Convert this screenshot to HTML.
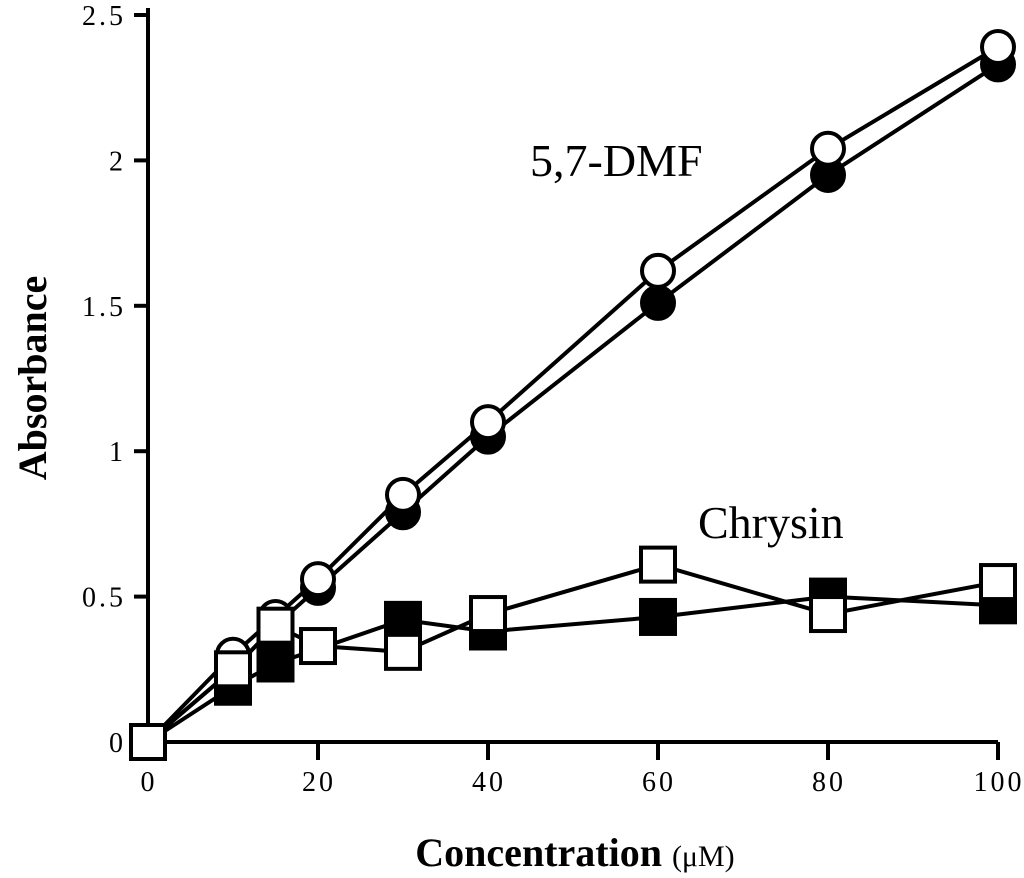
<!DOCTYPE html>
<html><head><meta charset="utf-8"><style>
html,body{margin:0;padding:0;background:#fff;}
svg{display:block;font-family:"Liberation Serif",serif;}
</style></head><body>
<svg id="c" width="1024" height="878"></svg>
<script>
const xTicks=[0,20,40,60,80,100];
const yTicks=[0,0.5,1,1.5,2,2.5];
const yTickLabels=["0","0.5","1","1.5","2","2.5"];
const dmfOpenX=[0,10,15,20,30,40,60,80,100];
const dmfOpenY=[0,0.30,0.43,0.56,0.85,1.10,1.62,2.04,2.39];
const dmfFilledX=[0,10,15,20,30,40,60,80,100];
const dmfFilledY=[0,0.25,0.40,0.53,0.79,1.05,1.51,1.95,2.33];
const chrOpenX=[0,10,15,20,30,40,60,80,100];
const chrOpenY=[0,0.25,0.40,0.33,0.31,0.44,0.61,0.44,0.55];
const chrFilledX=[0,10,15,30,40,60,80,100];
const chrFilledY=[0,0.19,0.27,0.42,0.38,0.43,0.50,0.47];

const NS="http://www.w3.org/2000/svg";
const svg=document.getElementById('c');
const X=v=>148+v*8.5;
const Y=v=>742-v*290.8;
function mk(t,a,p){const e=document.createElementNS(NS,t);for(const k in a)e.setAttribute(k,a[k]);(p||svg).appendChild(e);return e;}

let ax=mk('path',{d:`M148,8 L148,742 L998,742`,fill:'none',stroke:'#000','stroke-width':4});


xTicks.forEach(v=>{
  let t=mk('line',{x1:X(v),x2:X(v),y1:742,y2:760,stroke:'#000','stroke-width':4});
  
  
  let l=mk('text',{x:X(v)+1,y:791,'font-size':28,'letter-spacing':3,'text-anchor':'middle'});l.textContent=v;
  
  
});
yTicks.forEach((v,i)=>{
  let t=mk('line',{x1:134,x2:148,y1:Y(v),y2:Y(v),stroke:'#000','stroke-width':4});
  
  
  let l=mk('text',{x:126,y:Y(v)+10,'font-size':28,'letter-spacing':3,'text-anchor':'end'});l.textContent=yTickLabels[i];
  
  
});
function series(xs,ys,shape,fill,name){
  const g=mk('g',{});
  
  
  mk('polyline',{points:xs.map((x,i)=>X(x)+','+Y(ys[i])).join(' '),fill:'none',stroke:'#000','stroke-width':4},g);
  xs.forEach((x,i)=>{
    let m;
    if(shape==='c') m=mk('circle',{cx:X(x),cy:Y(ys[i]),r:16,fill:fill,stroke:'#000','stroke-width':4},g);
    else m=mk('rect',{x:X(x)-17,y:Y(ys[i])-17,width:34,height:34,fill:fill,stroke:'#000','stroke-width':4},g);
    
    
  });
}
series(dmfFilledX,dmfFilledY,'c','#000','dmf-filled-series');
series(dmfOpenX,dmfOpenY,'c','#fff','dmf-open-series');
series(chrFilledX,chrFilledY,'s','#000','chrysin-filled-series');
series(chrOpenX,chrOpenY,'s','#fff','chrysin-open-series');

let a=mk('text',{x:530,y:176,'font-size':46});a.textContent='5,7-DMF';

let b=mk('text',{x:698,y:538,'font-size':46});b.textContent='Chrysin';

let xt=mk('text',{x:575,y:866,'font-size':40,'font-weight':'bold','text-anchor':'middle'});
xt.innerHTML='Concentration <tspan font-size="30" font-weight="normal">(μM)</tspan>';

let yt=mk('text',{x:0,y:0,'font-size':40,'font-weight':'bold','text-anchor':'middle',transform:'translate(46,378) rotate(-90)'});
yt.textContent='Absorbance';

</script>
</body></html>
